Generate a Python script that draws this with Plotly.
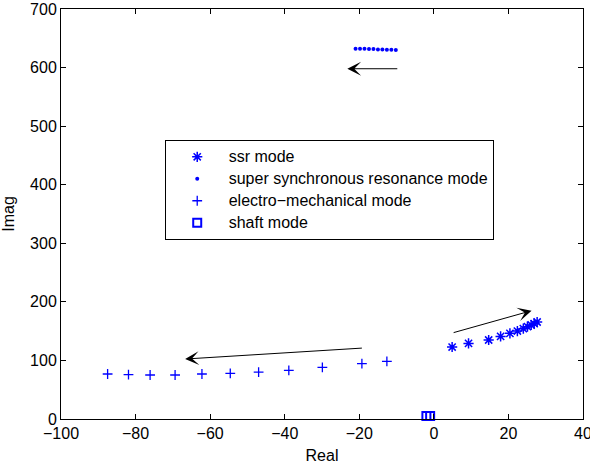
import plotly.graph_objects as go

# ssr mode
ssr_re = [4.9, 9.3, 14.7, 17.9, 20.4, 22.4, 24.0, 25.1, 26.1, 26.9, 27.7]
ssr_im = [122.9, 129.1, 134.9, 141.0, 146.2, 150.2, 154.2, 157.6, 160.5, 162.7, 165.6]

# super synchronous resonance mode
sup_re = [-21.0, -19.8, -18.6, -17.4, -16.2, -15.0, -13.8, -12.6, -11.4, -10.2]
sup_im = [632, 632, 632, 631.5, 631.5, 631, 631, 630.5, 630.5, 630]

# electro-mechanical mode
em_re = [-87.5, -81.9, -76.1, -69.4, -62.2, -54.6, -47.0, -38.9, -29.9, -19.3, -12.6]
em_im = [76.8, 75.6, 75.1, 75.1, 76.8, 77.9, 80.2, 83.0, 88.1, 94.4, 98.3]

# shaft mode
sh_re = [-2.0, -1.0]
sh_im = [5, 5]

# legend labels
names = ["ssr mode", "super synchronous resonance mode",
         "electro\u2212mechanical mode", "shaft mode"]

# arrows: (tail_x, tail_y, head_x, head_y)
arrows = [
    (-9.4, 598, -23.2, 598),
    (-18.9, 121.2, -66.7, 102.4),
    (4.9, 146.8, 26.2, 184.9),
]

blue = "#0000ff"
family = "Liberation Sans, Arial, sans-serif"
font = dict(family=family, size=16, color="black")
legend_font = dict(family=family, size=14.6, color="black")


def lab(s):
    return '<span style="font-size:16px">' + s + "</span>"


fig = go.Figure()
fig.add_trace(go.Scatter(x=ssr_re, y=ssr_im, mode="markers", name=lab(names[0]),
                         cliponaxis=False,
                         marker=dict(symbol="asterisk-open", size=8.5, color=blue,
                                     line=dict(color=blue, width=1.5))))
fig.add_trace(go.Scatter(x=sup_re, y=sup_im, mode="markers", name=lab(names[1]),
                         cliponaxis=False,
                         marker=dict(symbol="circle", size=4, color=blue)))
fig.add_trace(go.Scatter(x=em_re, y=em_im, mode="markers", name=lab(names[2]),
                         cliponaxis=False,
                         marker=dict(symbol="cross-thin-open", size=7, color=blue,
                                     line=dict(color=blue, width=1.3))))
fig.add_trace(go.Scatter(x=sh_re, y=sh_im, mode="markers", name=lab(names[3]),
                         cliponaxis=False,
                         marker=dict(symbol="square-open", size=8, color=blue,
                                     line=dict(color=blue, width=2))))

for tx, ty, hx, hy in arrows:
    fig.add_annotation(x=hx, y=hy, ax=tx, ay=ty, xref="x", yref="y",
                       axref="x", ayref="y", showarrow=True, text="",
                       arrowhead=3, arrowsize=2.3, arrowwidth=1,
                       arrowcolor="black")

axis_common = dict(showgrid=False, zeroline=False, showline=True, linecolor="black",
                   linewidth=1, mirror="ticks", ticks="inside", ticklen=5,
                   tickcolor="black", tickfont=font, ticklabeloverflow="allow",
                   automargin=False)

fig.update_layout(
    width=590, height=464,
    margin=dict(l=61, r=7, t=9, b=45, autoexpand=False),
    paper_bgcolor="white", plot_bgcolor="white",
    font=font,
    xaxis=dict(range=[-100, 40], dtick=20, title=dict(text="Real", font=font, standoff=8),
               **axis_common),
    yaxis=dict(range=[0, 700], dtick=100, title=dict(text="Imag", font=font, standoff=11),
               **axis_common),
    legend=dict(x=0.1987, y=0.681, xanchor="left", yanchor="top",
                bgcolor="white", bordercolor="black", borderwidth=1,
                font=legend_font, tracegroupgap=0, itemsizing="trace", itemwidth=53),
    showlegend=True,
)

fig.write_html("out.html", config={"displayModeBar": False},
               post_script="document.body.style.margin='0';")
